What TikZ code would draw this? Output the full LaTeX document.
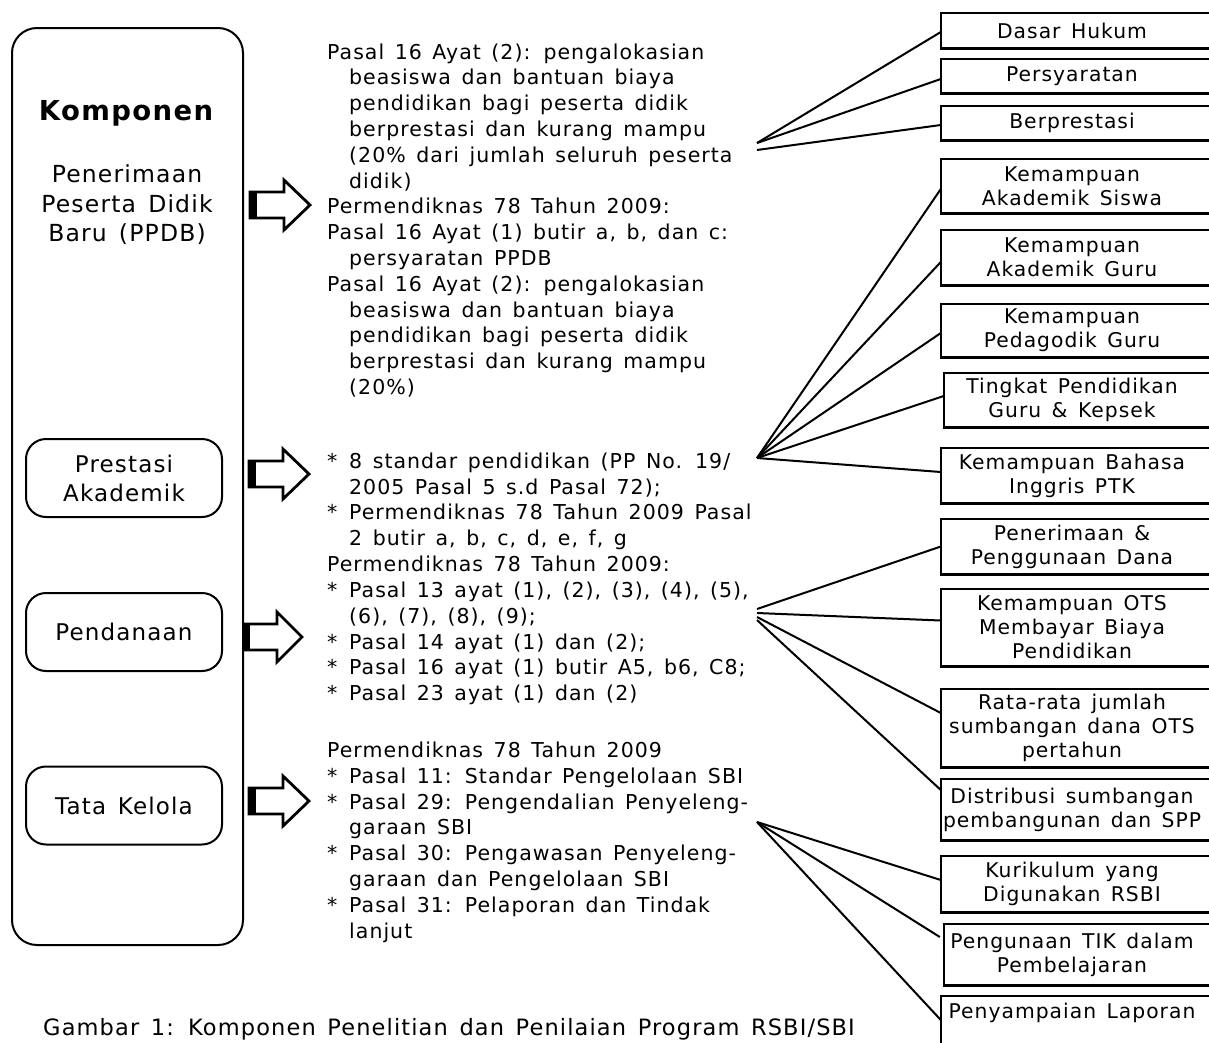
\documentclass[tikz,border=0pt]{standalone}
\usepackage{fontspec}
\setmainfont{DejaVu Sans}[LetterSpace=5,WordSpace=1.4]
\newcommand\myind{\hspace*{22pt}}
\newcommand\mybul{\makebox[22pt][l]{*}}
\begin{document}
\begin{tikzpicture}[x=1pt,y=-1pt,
  body/.style={font=\fontsize{20.5}{25.8}\selectfont, align=left, anchor=north west, inner sep=0pt},
  rbox/.style={align=center, inner sep=0pt, font=\fontsize{20.3}{24}\selectfont, minimum width=262pt},
  boxline/.style={line width=2.6pt},
  lbox/.style={draw, line width=2pt, rounded corners=20pt, minimum width=196pt, minimum height=78pt, align=center, inner sep=0pt, font=\fontsize{23}{29}\selectfont},
  fan/.style={line width=2pt},
  barrow/.style={draw, line width=2.8pt, fill=white, line join=miter}
]
\useasboundingbox (0,0) rectangle (1209,1042);
\clip (0,0) rectangle (1209,1042);

% left column
\node[draw, line width=2pt, rounded corners=25pt, minimum width=231pt, minimum height=917pt] (main) at (127.5,486.5) {};
\node[font=\fontsize{27.5}{32}\selectfont\bfseries, anchor=base, inner sep=0pt] (komp) at (126,120) {Komponen};
\node[font=\fontsize{23.5}{29.5}\selectfont, align=center, inner sep=0pt] (ppdb) at (127,205) {Penerimaan\\Peserta Didik\\Baru (PPDB)};
\node[lbox] (pa) at (124,478) {Prestasi\\Akademik};
\node[lbox] (pd) at (124,632) {Pendanaan};
\node[lbox] (tk) at (124,805.5) {Tata Kelola};

% block arrows
\coordinate (a1) at (250,205);
\coordinate (a2) at (249,474);
\coordinate (a3) at (244,637);
\coordinate (a4) at (249,801);
\foreach \a in {a1,a2,a4}{
  \draw[barrow] (\a) ++(0,-13) -- ++(34,0) -- ++(0,-12) -- ++(26,25) -- ++(-26,25) -- ++(0,-12) -- ++(-34,0) -- cycle;
  \fill (\a) ++(-1,-14) rectangle ++(8,28);
}
\draw[barrow] (a3) ++(0,-13) -- ++(33,0) -- ++(0,-12) -- ++(25,25) -- ++(-25,25) -- ++(0,-12) -- ++(-33,0) -- cycle;
\fill (a3) ++(-1,-14) rectangle ++(7,28);

% text blocks
\node[body] (b1) at (327,43.4) {Pasal 16 Ayat (2): pengalokasian\\
\myind beasiswa dan bantuan biaya\\
\myind pendidikan bagi peserta didik\\
\myind berprestasi dan kurang mampu\\
\myind (20\% dari jumlah seluruh peserta\\
\myind didik)\\
Permendiknas 78 Tahun 2009:\\
Pasal 16 Ayat (1) butir a, b, dan c:\\
\myind persyaratan PPDB\\
Pasal 16 Ayat (2): pengalokasian\\
\myind beasiswa dan bantuan biaya\\
\myind pendidikan bagi peserta didik\\
\myind berprestasi dan kurang mampu\\
\myind (20\%)};

\node[body] (b2) at (327,452.5) {\mybul 8 standar pendidikan (PP No. 19/\\
\myind 2005 Pasal 5 s.d Pasal 72);\\
\mybul Permendiknas 78 Tahun 2009 Pasal\\
\myind 2 butir a, b, c, d, e, f, g};

\node[body] (b3) at (327,556) {Permendiknas 78 Tahun 2009:\\
\mybul Pasal 13 ayat (1), (2), (3), (4), (5),\\
\myind (6), (7), (8), (9);\\
\mybul Pasal 14 ayat (1) dan (2);\\
\mybul Pasal 16 ayat (1) butir A5, b6, C8;\\
\mybul Pasal 23 ayat (1) dan (2)};

\node[body] (b4) at (327,741.7) {Permendiknas 78 Tahun 2009\\
\mybul Pasal 11: Standar Pengelolaan SBI\\
\mybul Pasal 29: Pengendalian Penyeleng-\\
\myind garaan SBI\\
\mybul Pasal 30: Pengawasan Penyeleng-\\
\myind garaan dan Pengelolaan SBI\\
\mybul Pasal 31: Pelaporan dan Tindak\\
\myind lanjut};

% caption
\node[font=\fontsize{22.5}{28}\selectfont, anchor=base west, inner sep=0pt] (cap) at (43,1035) {Gambar 1: Komponen Penelitian dan Penilaian Program RSBI/SBI};

% right boxes
\node[rbox, minimum height=35pt] (r1) at (1072,30.5) {Dasar Hukum};
\node[rbox, minimum height=34pt] (r2) at (1072,76) {Persyaratan};
\node[rbox, minimum height=34pt] (r3) at (1072,123) {Berprestasi};
\node[rbox, minimum height=54pt] (r4) at (1072,186) {Kemampuan\\Akademik Siswa};
\node[rbox, minimum height=55pt] (r5) at (1072,257.5) {Kemampuan\\Akademik Guru};
\node[rbox, minimum height=53pt] (r6) at (1072,330.5) {Kemampuan\\Pedagodik Guru};
\node[rbox, minimum height=54pt, minimum width=256pt] (r7) at (1072,400) {Tingkat Pendidikan\\Guru \& Kepsek};
\node[rbox, minimum height=55pt] (r8) at (1072,475.5) {Kemampuan Bahasa\\Inggris PTK};
\node[rbox, minimum height=55pt] (r9) at (1072,546.5) {Penerimaan \&\\Penggunaan Dana};
\node[rbox, minimum height=77pt] (r10) at (1072,627.5) {Kemampuan OTS\\Membayar Biaya\\Pendidikan};
\node[rbox, minimum height=78pt] (r11) at (1072,728) {Rata-rata jumlah\\sumbangan dana OTS\\pertahun};
\node[rbox, minimum height=61pt] (r12) at (1072,809.5) {Distribusi sumbangan\\pembangunan dan SPP};
\node[rbox, minimum height=56pt] (r13) at (1072,884) {Kurikulum yang\\Digunakan RSBI};
\node[rbox, minimum height=61pt, minimum width=256pt] (r14) at (1072,954.5) {Pengunaan TIK dalam\\Pembelajaran};
\node[rbox, minimum height=54pt] (r15) at (1072,1023) {Penyampaian Laporan\\ \mbox{}};
\foreach \n in {r1,r2,r3,r4,r5,r6,r7,r8,r9,r10,r11,r12,r13,r14,r15}
  \draw[boxline] ([xshift=30pt]\n.north east) -- (\n.north west) -- (\n.south west) -- ([xshift=30pt]\n.south east);

% fan connectors
\coordinate (f1a) at (757,143);
\coordinate (f1b) at (757,150);
\coordinate (f2) at (757,458);
\coordinate (f3a) at (757,609);
\coordinate (f3b) at (757,613);
\coordinate (f3c) at (757,617);
\coordinate (f3d) at (757,620);
\coordinate (f4) at (757,822);
\draw[fan] (f1a) -- ([yshift=-1.5pt]r1.west);
\draw[fan] (f1a) -- ([yshift=-3pt]r2.west);
\draw[fan] (f1b) -- ([yshift=-2pt]r3.west);
\draw[fan] (f2) -- ([yshift=-3pt]r4.west);
\draw[fan] (f2) -- ([yshift=-4.5pt]r5.west);
\draw[fan] (f2) -- ([yshift=-2.5pt]r6.west);
\draw[fan] (f2) -- ([yshift=4pt]r7.west);
\draw[fan] (f2) -- ([yshift=3.5pt]r8.west);
\draw[fan] (f3a) -- (r9.west);
\draw[fan] (f3b) -- ([yshift=7pt]r10.west);
\draw[fan] (f3c) -- ([yshift=15pt]r11.west);
\draw[fan] (f3d) -- ([yshift=19.5pt]r12.west);
\draw[fan] (f4) -- ([yshift=4pt]r13.west);
\draw[fan] (f4) -- ([xshift=-4pt,yshift=17.5pt]r14.west);
\draw[fan] (f4) -- ([yshift=3pt]r15.west);
\end{tikzpicture}
\end{document}
